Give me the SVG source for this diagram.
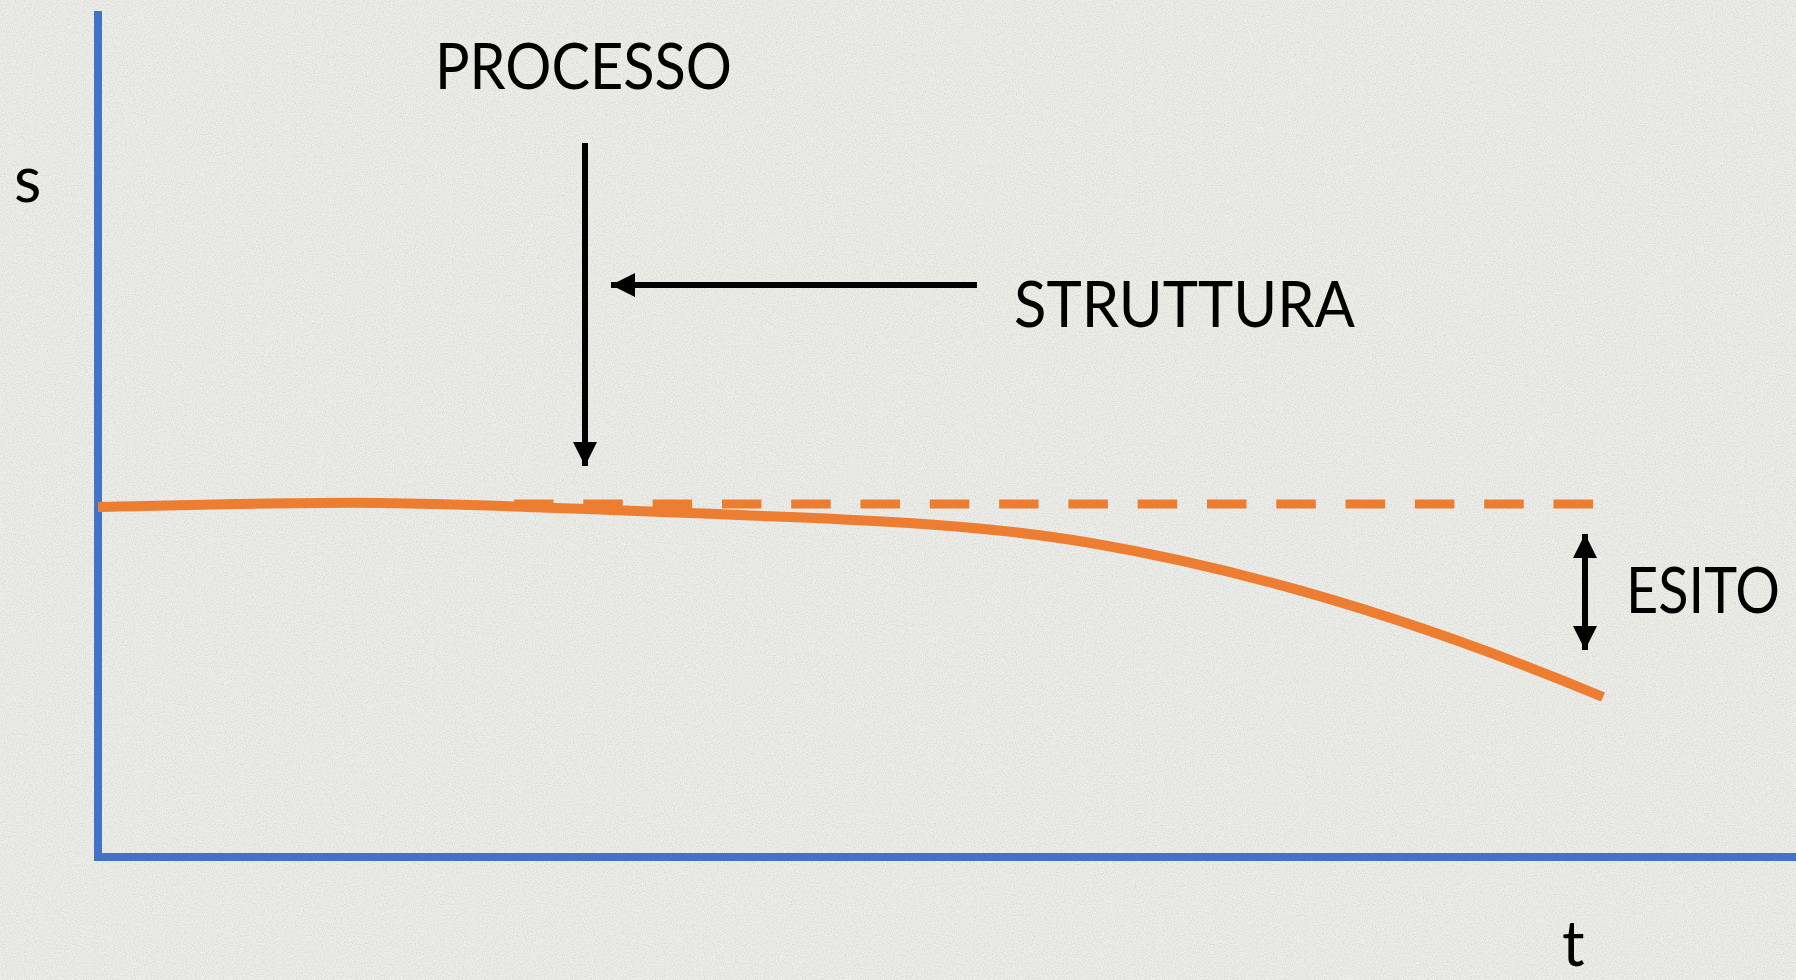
<svg xmlns="http://www.w3.org/2000/svg" width="1796" height="980" viewBox="0 0 1796 980">
<style>
.lbl{font-family:Lato,"Open Sans","Liberation Sans",sans-serif;font-size:63px;fill:#000}
.axis{stroke:#4472C4;stroke-width:8;fill:none}
.arr{stroke:#000;stroke-width:6;fill:none}
.curve{stroke:#ED7D31;stroke-width:10;fill:none}
.dash{stroke:#ED7D31;stroke-width:9;fill:none}
</style>
<defs>
<marker id="ah" viewBox="0 0 10 10" refX="10" refY="5" markerWidth="4" markerHeight="4" orient="auto-start-reverse" markerUnits="strokeWidth">
<path d="M0,0 L10,5 L0,10 Z" fill="#000"/>
</marker>
<filter id="paper" x="0" y="0" width="100%" height="100%">
<feTurbulence type="fractalNoise" baseFrequency="0.9" numOctaves="2" seed="3" result="n"/>
<feColorMatrix in="n" type="matrix" values="0 0 0 0 0.55  0 0 0 0 0.55  0 0 0 0 0.53  0 0 0 1.2 -0.45" result="g"/>
<feComposite in="g" in2="SourceGraphic" operator="over"/>
</filter>
</defs>
<rect id="background" x="0" y="0" width="1796" height="980" fill="#EEEEEA" filter="url(#paper)"/>
<g id="axes">
<line class="axis" x1="98" y1="11" x2="98" y2="861"/>
<line class="axis" x1="94" y1="857" x2="1796" y2="857"/>
</g>
<g id="reference-line">
<line class="dash" x1="514" y1="504" x2="1593" y2="504" stroke-dasharray="39.5 29.8"/>
</g>
<g id="curve">
<path class="curve" d="M98,507 C200,505 300,502 380,503 C480,504 640,511 740,515 C857,520 974,523 1091,543 C1261,572 1433,626 1603,697"/>
</g>
<g id="connectors">
<line class="arr" x1="585" y1="143" x2="585" y2="466" marker-end="url(#ah)"/>
<line class="arr" x1="977" y1="285" x2="611" y2="285" marker-end="url(#ah)"/>
<line class="arr" x1="1585" y1="534" x2="1585" y2="650" marker-start="url(#ah)" marker-end="url(#ah)"/>
</g>
<g id="label-s"><text class="lbl" x="14" y="202">s</text></g>
<g id="label-t"><text class="lbl" x="1562" y="966">t</text></g>
<g id="label-processo"><text class="lbl" x="435" y="89" textLength="297" lengthAdjust="spacingAndGlyphs">PROCESSO</text></g>
<g id="label-struttura"><text class="lbl" x="1014" y="327" textLength="341" lengthAdjust="spacingAndGlyphs">STRUTTURA</text></g>
<g id="label-esito"><text class="lbl" x="1626" y="613" textLength="154" lengthAdjust="spacingAndGlyphs">ESITO</text></g>
</svg>
